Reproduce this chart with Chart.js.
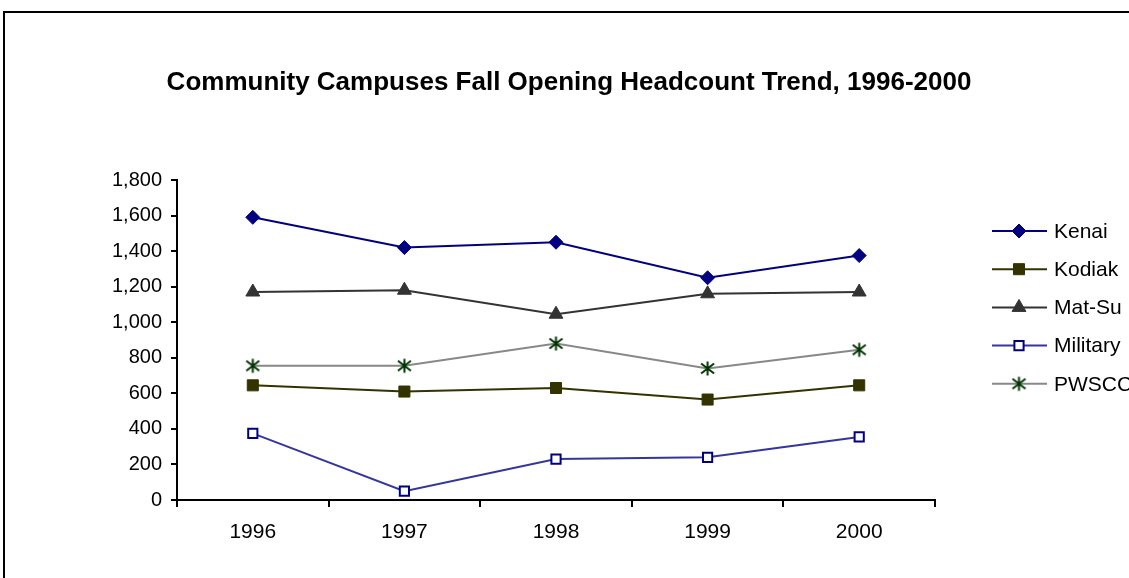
<!DOCTYPE html>
<html>
<head>
<meta charset="utf-8">
<script src="https://cdn.jsdelivr.net/npm/chart.js@4/dist/chart.umd.min.js"></script>
<style>
  html, body { margin: 0; padding: 0; background: #fff; }
  #wrap { position: relative; width: 1129px; height: 578px; overflow: hidden; }
  #frame { position: absolute; left: 3px; top: 11px; width: 1200px; height: 700px;
           border-top: 2px solid #000; border-left: 2px solid #000; box-sizing: border-box; }
  canvas { position: absolute; left: 0; top: 0; }
</style>
</head>
<body>
<div id="wrap">
  <div id="frame"></div>
  <canvas id="c" width="1129" height="578"></canvas>
</div>
<script>
const chartTitle = "Community Campuses Fall Opening Headcount Trend, 1996-2000";
const years = ["1996", "1997", "1998", "1999", "2000"];
const kenai    = [1590, 1420, 1450, 1250, 1375];
const kodiak   = [645, 610, 630, 565, 645];
const matSu    = [1170, 1180, 1045, 1160, 1170];
const military = [375, 50, 230, 240, 355];
const pwscc    = [755, 755, 880, 740, 845];
const yMin = 0, yMax = 1800, yStep = 200;

const FONT = "'Liberation Sans', Arial, sans-serif";

// asterisk marker (vertical bar + X) for PWSCC
function makeStar() {
  const s = document.createElement('canvas');
  s.width = 17; s.height = 17;
  const g = s.getContext('2d');
  g.strokeStyle = '#003300';
  g.lineWidth = 2;
  g.beginPath();
  g.moveTo(8.5, 1.5); g.lineTo(8.5, 15.5);
  g.moveTo(2, 3.5); g.lineTo(15, 13.5);
  g.moveTo(15, 3.5); g.lineTo(2, 13.5);
  g.stroke();
  return s;
}
const starImg = makeStar();

const datasets = [
  { label: 'Kenai', data: kenai, borderColor: '#000080', backgroundColor: '#000080',
    pointStyle: 'rectRot', pointRadius: 7, pointBorderColor: '#000080', pointBackgroundColor: '#000080', pointBorderWidth: 1 },
  { label: 'Kodiak', data: kodiak, borderColor: '#333300', backgroundColor: '#333300',
    pointStyle: 'rect', pointRadius: 7.8, pointBorderColor: '#333300', pointBackgroundColor: '#333300', pointBorderWidth: 1 },
  { label: 'Mat-Su', data: matSu, borderColor: '#333333', backgroundColor: '#333333',
    pointStyle: 'triangle', pointRadius: 8, pointBorderColor: '#333333', pointBackgroundColor: '#333333', pointBorderWidth: 1 },
  { label: 'Military', data: military, borderColor: '#3535a0', backgroundColor: '#ffffff',
    pointStyle: 'rect', pointRadius: 6.5, pointBorderColor: '#000080', pointBackgroundColor: '#ffffff', pointBorderWidth: 2 },
  { label: 'PWSCC', data: pwscc, borderColor: '#888888', backgroundColor: '#003300',
    pointStyle: starImg, pointRadius: 8, pointBorderColor: '#003300', pointBackgroundColor: '#003300', pointBorderWidth: 2 }
];
datasets.forEach(d => { d.borderWidth = 2; d.tension = 0; d.fill = false; d.pointHoverRadius = d.pointRadius; });

const titleLegendPlugin = {
  id: 'titleLegend',
  afterDraw(chart) {
    const ctx = chart.ctx;
    ctx.save();
    // title
    ctx.fillStyle = '#000';
    ctx.font = 'bold 26px ' + FONT;
    ctx.textAlign = 'center';
    ctx.textBaseline = 'middle';
    ctx.fillText(chartTitle, 569, 83);
    // legend
    ctx.font = '21px ' + FONT;
    ctx.textAlign = 'left';
    chart.data.datasets.forEach((ds, i) => {
      const y = 231 + i * 38.2;
      ctx.strokeStyle = ds.borderColor;
      ctx.lineWidth = 2;
      ctx.beginPath();
      ctx.moveTo(992, y); ctx.lineTo(1047, y);
      ctx.stroke();
      const el = chart.getDatasetMeta(i).data[0];
      if (el && Chart.helpers && Chart.helpers.drawPoint) {
        const o = el.options;
        ctx.fillStyle = o.backgroundColor;
        ctx.strokeStyle = o.borderColor;
        ctx.lineWidth = o.borderWidth;
        Chart.helpers.drawPoint(ctx, { pointStyle: o.pointStyle, rotation: o.rotation || 0, radius: o.radius, borderWidth: o.borderWidth }, 1019, y);
      }
      ctx.fillStyle = '#000';
      ctx.fillText(ds.label, 1054, y + 1);
    });
    ctx.restore();
  }
};

new Chart(document.getElementById('c'), {
  type: 'line',
  data: { labels: years, datasets: datasets },
  options: {
    responsive: false,
    animation: false,
    events: [],
    layout: { padding: { left: 0, top: 180, right: 194, bottom: 0 } },
    plugins: { legend: { display: false }, title: { display: false }, tooltip: { enabled: false } },
    scales: {
      x: {
        offset: true,
        grid: { offset: true, drawOnChartArea: false, drawTicks: true, tickLength: 7, color: '#000', lineWidth: 2 },
        border: { color: '#000', width: 2 },
        ticks: { color: '#000', font: { family: FONT, size: 21 }, padding: 13, maxRotation: 0 },
        afterFit(s) { s.height = 78; }
      },
      y: {
        min: yMin, max: yMax,
        grid: { drawOnChartArea: false, drawTicks: true, tickLength: 6, color: '#000', lineWidth: 2 },
        border: { color: '#000', width: 2 },
        ticks: { stepSize: yStep, color: '#000', font: { family: FONT, size: 20 }, padding: 9 },
        afterFit(s) { s.width = 177; }
      }
    }
  },
  plugins: [titleLegendPlugin]
});
</script>
</body>
</html>
